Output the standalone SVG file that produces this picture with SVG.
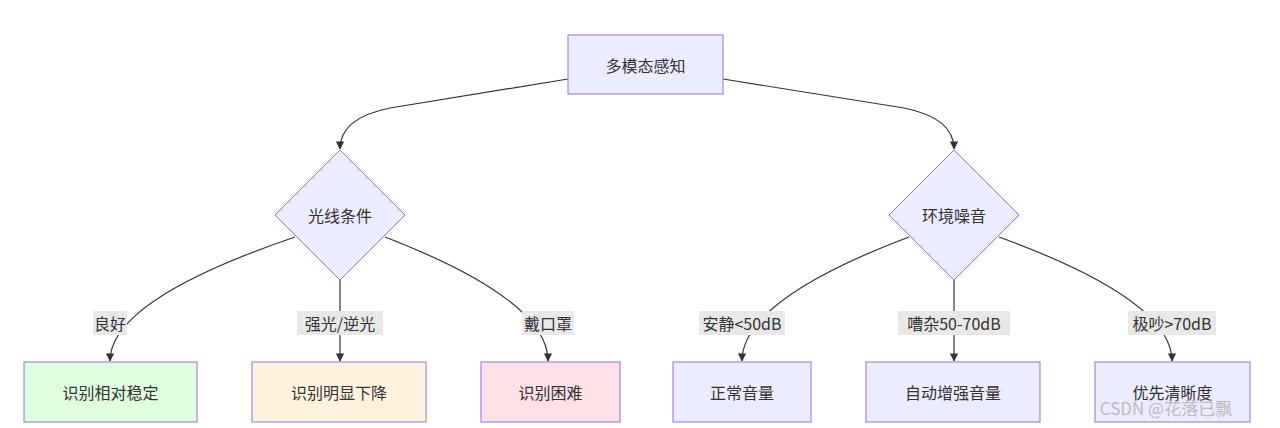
<svg xmlns="http://www.w3.org/2000/svg" width="1280" height="428" viewBox="0 0 1280 428">
<style>
text{font-family:"Noto Sans CJK SC","Liberation Sans",sans-serif;font-size:16px;fill:#333;text-anchor:middle;dominant-baseline:central}
.n{fill:#ECECFF;stroke:#9370DB;stroke-width:1}
.e{fill:none;stroke:#333;stroke-width:1.2;marker-end:url(#a)}
.lb{fill:#e8e8e8}
</style>
<defs><marker id="a" viewBox="0 0 10 10" refX="9" refY="5" markerWidth="7" markerHeight="7" orient="auto"><path d="M0,0L10,5L0,10z" fill="#333"/></marker></defs>
<rect width="1280" height="428" fill="#fff"/>
<g id="edges">
<path class="e" d="M568,79 L390,108 Q340,118 340,149"/>
<path class="e" d="M723,79 L904,108 Q954,118 954,149"/>
<path class="e" d="M295,237 Q110,300 110,361"/>
<path class="e" d="M340,280 L340,361"/>
<path class="e" d="M385,237 Q548,300 548,361"/>
<path class="e" d="M909,237 Q742,300 742,361"/>
<path class="e" d="M954,280 L954,361"/>
<path class="e" d="M999,237 Q1172,300 1172,361"/>
<rect class="lb" x="93" y="311" width="34" height="24"/><text x="110" y="323">良好</text>
<rect class="lb" x="297" y="311" width="86" height="24"/><text x="340" y="323">强光/逆光</text>
<rect class="lb" x="522" y="311" width="52" height="24"/><text x="548" y="323">戴口罩</text>
<rect class="lb" x="699" y="311" width="86" height="24"/><text x="742" y="323">安静&lt;50dB</text>
<rect class="lb" x="898" y="311" width="112" height="24"/><text x="954" y="323">嘈杂50-70dB</text>
<rect class="lb" x="1128" y="311" width="88" height="24"/><text x="1172" y="323">极吵&gt;70dB</text>
</g>
<g id="root"><rect class="n" x="568" y="35" width="155" height="59"/><text x="645.5" y="64.5">多模态感知</text></g>
<g id="light"><path class="n" d="M340,150 L405,215 L340,280 L275,215Z"/><text x="340" y="215">光线条件</text></g>
<g id="noise"><path class="n" d="M954,150 L1019,215 L954,280 L889,215Z"/><text x="954" y="215">环境噪音</text></g>
<g id="b1"><rect x="24" y="362" width="173" height="60" fill="#e0ffe0" stroke="#9370DB"/><text x="110.5" y="392">识别相对稳定</text></g>
<g id="b2"><rect x="252" y="362" width="174" height="60" fill="#fff3e0" stroke="#9370DB"/><text x="339" y="392">识别明显下降</text></g>
<g id="b3"><rect x="481" y="362" width="139" height="60" fill="#ffe0e6" stroke="#9370DB"/><text x="550.5" y="392">识别困难</text></g>
<g id="b4"><rect class="n" x="673" y="362" width="138" height="60"/><text x="742" y="392">正常音量</text></g>
<g id="b5"><rect class="n" x="866" y="362" width="174" height="60"/><text x="953" y="392">自动增强音量</text></g>
<g id="b6"><rect class="n" x="1095" y="362" width="155" height="60"/><text x="1172.5" y="392">优先清晰度</text></g>
<text x="1166" y="407" style="fill:#bbb;font-size:17px">CSDN @花落已飘</text>
</svg>
